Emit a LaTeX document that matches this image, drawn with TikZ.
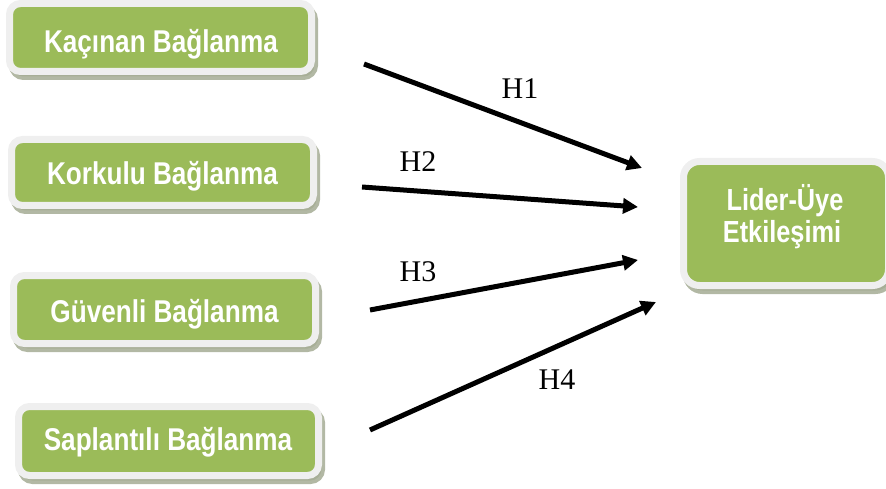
\documentclass[tikz,border=0pt]{standalone}
\usepackage{fontspec}
\setmainfont{Liberation Serif}
\newfontfamily\boxfont[FakeStretch=0.83]{Liberation Sans}
\usetikzlibrary{arrows.meta,shadows}
\definecolor{boxgreen}{HTML}{9BBB59}
\definecolor{framegray}{HTML}{EFEFEF}
\definecolor{shadowcol}{RGB}{165,172,148}
\tikzset{
  gbox/.style={fill=boxgreen, draw=framegray, line width=7pt, rounded corners=11pt,
    inner sep=0pt,
    drop shadow={shadow xshift=3pt, shadow yshift=-5pt, fill=shadowcol, draw=shadowcol, line width=7pt, opacity=0.85}},
  btext/.style={anchor=base, inner sep=0pt, text=white, font=\boxfont\bfseries\fontsize{31.5}{32}\selectfont},
  rtext/.style={anchor=base, inner sep=0pt, text=white, font=\boxfont\bfseries\fontsize{30.5}{32}\selectfont},
  harrow/.style={line width=5pt, -{Triangle[length=15pt,width=15pt]}},
  hlabel/.style={font=\fontsize{30}{32}\selectfont, inner sep=0pt}
}
\begin{document}
\begin{tikzpicture}[x=1pt,y=-1pt]
\useasboundingbox (0,0) rectangle (886,489);
\node[gbox, minimum width=302pt, minimum height=68pt] (b1) at (160.5,37.5) {};
\node[gbox, minimum width=302pt, minimum height=66pt] (b2) at (162.5,172.5) {};
\node[gbox, minimum width=302pt, minimum height=68pt] (b3) at (164.5,309.5) {};
\node[gbox, minimum width=300pt, minimum height=69pt] (b4) at (168.5,441) {};
\node[gbox, minimum width=205pt, minimum height=124pt, rounded corners=16pt] (lmx) at (786,223.5) {};
\node[btext] (b1t) at (161,53) {Kaçınan Bağlanma};
\node[btext] (b2t) at (162.5,185) {Korkulu Bağlanma};
\node[btext] (b3t) at (164.5,322) {Güvenli Bağlanma};
\node[btext] (b4t) at (168,450) {Saplantılı Bağlanma};
\node[rtext] (lt1) at (785,211) {Lider-Üye};
\node[rtext] (lt2) at (782,243) {Etkileşimi};
\coordinate (s1) at (364,64);
\coordinate (t1) at (642,168);
\coordinate (s2) at (362,187);
\coordinate (t2) at (638,207);
\coordinate (s3) at (370,310);
\coordinate (t3) at (638,260);
\coordinate (s4) at (370,430);
\coordinate (t4) at (656,302);
\draw[harrow] (s1) -- (t1);
\draw[harrow] (s2) -- (t2);
\draw[harrow] (s3) -- (t3);
\draw[harrow] (s4) -- (t4);
\node[hlabel] (h1) at (520,89) {H1};
\node[hlabel] (h2) at (418,162) {H2};
\node[hlabel] (h3) at (418,272) {H3};
\node[hlabel] (h4) at (557,380) {H4};
\end{tikzpicture}
\end{document}
